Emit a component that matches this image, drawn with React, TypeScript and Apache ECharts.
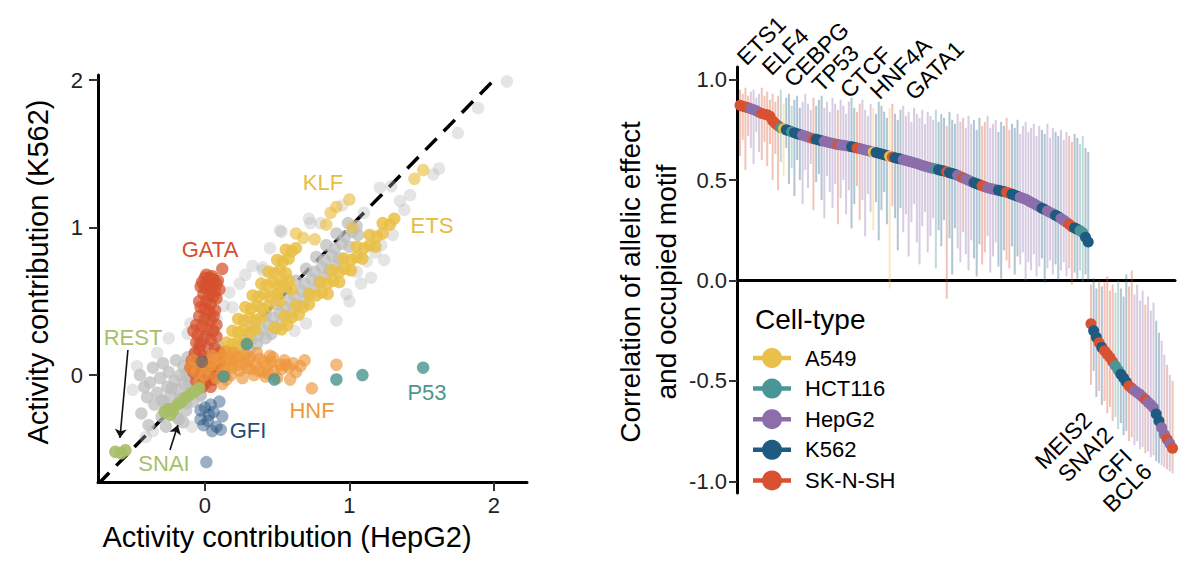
import React, { useEffect, useRef } from "react";
import * as echarts from "echarts";

const FONT = "'Liberation Sans', Arial, Helvetica, sans-serif";

// ---------- Left panel: activity contributions (HepG2 x, K562 y) ----------
// dense grey: lower-left cloud and the main band
const greyDense: number[][] = [
  [-0.45, 0.0], [-0.42, -0.08], [-0.4, -0.15], [-0.38, -0.05], [-0.36, 0.05], [-0.35, -0.2], [-0.33, -0.12], [-0.31, -0.02],
  [-0.3, -0.28], [-0.29, 0.08], [-0.28, -0.18], [-0.26, -0.08], [-0.25, 0.02], [-0.24, -0.14], [-0.22, -0.22], [-0.21, -0.04],
  [-0.2, 0.1], [-0.19, -0.1], [-0.18, -0.3], [-0.17, 0.0], [-0.16, -0.16], [-0.15, 0.06], [-0.14, -0.06], [-0.13, -0.24],
  [-0.12, 0.12], [-0.11, -0.12], [-0.1, -0.02], [-0.09, 0.04], [-0.08, -0.18], [-0.07, 0.14], [-0.06, -0.08], [-0.05, 0.08],
  [-0.04, 0.2], [-0.03, -0.14], [-0.02, 0.24], [-0.39, -0.34], [-0.44, -0.26], [-0.27, -0.35], [-0.15, -0.32],
  [-0.3, -0.17], [-0.23, -0.09], [-0.13, 0.01], [-0.07, 0.09], [-0.27, -0.23], [-0.17, -0.16], [-0.11, -0.06],
  [-0.19, -0.29], [-0.13, -0.19], [-0.03, -0.13], [0.05, -0.03],
  [-0.02, 0.03], [0.04, -0.01], [0.09, 0.04], [0.14, 0.0],
  [0.0, 0.11], [0.07, 0.09], [0.13, 0.12], [0.19, 0.08], [0.24, 0.12],
  [0.1, 0.19], [0.18, 0.17], [0.25, 0.2], [0.31, 0.17], [0.36, 0.21],
  [0.27, 0.26], [0.32, 0.24], [0.37, 0.27], [0.42, 0.25], [0.46, 0.28],
  [0.34, 0.33], [0.39, 0.31], [0.44, 0.34], [0.49, 0.32], [0.53, 0.35],
  [0.42, 0.41], [0.47, 0.39], [0.52, 0.42], [0.57, 0.4], [0.61, 0.43],
  [0.49, 0.48], [0.55, 0.46], [0.6, 0.49], [0.65, 0.47], [0.69, 0.5],
  [0.56, 0.56], [0.62, 0.54], [0.67, 0.57], [0.72, 0.55], [0.76, 0.58],
  [0.63, 0.64], [0.69, 0.62], [0.74, 0.65], [0.79, 0.63], [0.83, 0.66],
  [0.7, 0.72], [0.76, 0.7], [0.81, 0.73], [0.86, 0.71], [0.9, 0.74],
  [0.77, 0.8], [0.83, 0.78], [0.88, 0.81], [0.93, 0.79],
  [0.84, 0.88], [0.9, 0.86], [0.95, 0.89], [1.0, 0.87],
  [0.91, 0.96], [0.97, 0.94], [1.02, 0.97], [1.06, 0.95],
  [0.99, 1.03], [1.05, 1.01],
];

// sparse grey: scattered points around the bands
const greySparse: number[][] = [
  [-0.5, -0.1], [-0.47, 0.06], [-0.25, 0.25], [-0.33, 0.15], [-0.12, 0.28], [-0.09, -0.35], [-0.41, -0.42], [-0.36, -0.38],
  [0.05, 0.3], [0.08, 0.38], [0.13, 0.47], [0.19, 0.46], [0.17, 0.56], [0.24, 0.62], [0.28, 0.68], [0.33, 0.74],
  [0.4, 0.73], [0.52, 0.98], [0.73, 1.03], [0.45, 0.86], [-0.1, 0.35], [0.0, 0.4],
  [1.05, 0.7], [1.12, 0.77], [1.18, 0.83], [1.24, 0.78], [1.15, 0.66], [1.22, 0.88], [1.3, 0.95], [0.98, 0.55],
  [1.0, 0.5], [0.91, 0.37], [1.08, 0.62],
  [2.09, 1.99], [1.89, 1.81], [1.75, 1.64], [1.58, 1.36], [1.21, 1.27], [1.29, 1.28], [0.53, 0.97], [0.4, 0.71],
  [0.8, 1.03], [0.72, 1.06], [1.38, 1.12], [1.1, 1.1], [0.95, 1.15], [0.62, 0.3], [0.7, 0.35], [1.62, 1.4],
  [1.42, 1.22], [1.35, 1.18],
];

const klfPts: number[][] = [
  [0.1, 0.02], [0.14, 0.04],
  [0.09, 0.08], [0.13, 0.09], [0.17, 0.07],
  [0.12, 0.15], [0.16, 0.14], [0.2, 0.16], [0.24, 0.14],
  [0.15, 0.22], [0.19, 0.21], [0.23, 0.23], [0.27, 0.21], [0.3, 0.23],
  [0.19, 0.3], [0.23, 0.29], [0.27, 0.31], [0.31, 0.29], [0.35, 0.31],
  [0.23, 0.38], [0.27, 0.37], [0.31, 0.39], [0.35, 0.37], [0.39, 0.39],
  [0.28, 0.46], [0.32, 0.45], [0.36, 0.47], [0.4, 0.45], [0.44, 0.47],
  [0.33, 0.54], [0.37, 0.53], [0.41, 0.55], [0.45, 0.53], [0.49, 0.55],
  [0.39, 0.62], [0.43, 0.61], [0.47, 0.63], [0.51, 0.61], [0.54, 0.63],
  [0.44, 0.7], [0.48, 0.69], [0.52, 0.71], [0.56, 0.69],
  [0.5, 0.78], [0.54, 0.77], [0.58, 0.79],
  [0.56, 0.85], [0.6, 0.84], [0.63, 0.86],
];

const klfSparse: number[][] = [
  [1.0, 1.19], [0.91, 1.14], [0.87, 1.1], [0.84, 1.02], [0.76, 0.92], [0.68, 0.93], [0.63, 0.96], [1.51, 1.39],
  [1.45, 1.33], [1.02, 1.0],
];

const etsPts: number[][] = [
  [0.48, 0.32], [0.53, 0.31], [0.57, 0.34],
  [0.55, 0.4], [0.6, 0.39], [0.65, 0.41],
  [0.63, 0.47], [0.68, 0.46], [0.72, 0.48],
  [0.72, 0.55], [0.77, 0.54], [0.81, 0.56], [0.85, 0.55],
  [0.8, 0.63], [0.85, 0.62], [0.89, 0.64], [0.93, 0.63],
  [0.88, 0.71], [0.93, 0.7], [0.97, 0.72], [1.01, 0.71],
  [0.96, 0.79], [1.01, 0.78], [1.05, 0.8], [1.09, 0.79],
  [1.05, 0.87], [1.1, 0.86], [1.14, 0.88], [1.18, 0.87],
  [1.14, 0.95], [1.19, 0.94], [1.23, 0.96],
  [1.23, 1.03], [1.28, 1.02], [1.31, 1.06],
  [0.5, 0.55], [0.55, 0.6], [0.58, 0.64], [0.52, 0.5], [0.6, 0.58],
];

const gataPts: number[][] = [
  [0.12, 0.72], [0.0, 0.66], [0.03, 0.66], [0.06, 0.65], [-0.02, 0.63], [0.02, 0.62], [0.05, 0.61], [0.08, 0.62],
  [0.0, 0.59], [0.04, 0.58], [0.07, 0.57], [-0.01, 0.55], [0.03, 0.54], [0.06, 0.53], [0.01, 0.5], [0.04, 0.48],
  [0.0, 0.45], [0.03, 0.43], [-0.04, 0.4], [0.0, 0.38], [0.04, 0.37], [-0.06, 0.34], [-0.02, 0.33], [0.02, 0.31],
  [0.06, 0.3], [-0.05, 0.27], [0.0, 0.26], [0.04, 0.24], [-0.03, 0.21], [0.02, 0.19], [0.07, 0.18], [-0.07, 0.15],
  [-0.02, 0.13], [0.03, 0.12], [0.08, 0.1], [-0.06, 0.08], [0.0, 0.06], [0.05, 0.05], [-0.08, 0.02], [-0.03, 0.01],
  [0.02, -0.01], [0.07, 0.02], [-0.06, -0.04], [0.0, -0.06], [0.04, -0.08], [-0.1, 0.05], [0.1, 0.08], [-0.04, 0.17],
  [0.01, 0.68], [0.05, 0.67], [0.09, 0.64], [-0.03, 0.6], [0.1, 0.58], [0.08, 0.52], [-0.04, 0.5], [0.07, 0.44],
  [-0.03, 0.46], [0.06, 0.4], [0.08, 0.34], [-0.08, 0.3], [0.08, 0.26], [-0.06, 0.22], [0.1, 0.15], [-0.09, 0.1],
  [0.06, -0.03], [-0.02, -0.08],
];

const hnfPts: number[][] = [
  [-0.1, 0.05], [-0.06, 0.02], [-0.02, 0.08], [0.02, 0.04], [0.06, 0.1], [0.1, 0.06], [0.13, 0.02], [0.16, 0.09],
  [0.19, 0.05], [0.22, 0.12], [0.24, 0.03], [0.27, 0.08], [0.3, 0.1], [0.32, 0.04], [0.35, 0.07], [0.38, 0.11],
  [0.4, 0.02], [0.43, 0.06], [0.46, 0.09], [0.48, 0.03], [0.52, 0.07], [0.55, 0.1], [0.58, 0.05], [0.61, 0.08],
  [0.63, 0.02], [0.59, -0.03], [0.5, -0.02], [0.42, -0.01], [0.34, 0.0], [0.26, -0.02], [0.18, 0.0], [0.08, -0.02],
  [0.0, 0.0], [-0.04, -0.05], [0.12, 0.13], [0.2, 0.15], [0.28, 0.14], [0.36, 0.15], [0.91, 0.07], [0.74, -0.09],
  [0.45, 0.13], [0.15, -0.03],
  [0.05, 0.13], [0.09, 0.11], [0.14, 0.16], [0.18, 0.1], [0.23, 0.07], [0.29, 0.05], [0.31, 0.12], [0.37, 0.03],
  [0.41, 0.09], [0.44, 0.01], [0.47, 0.12], [0.53, 0.04], [0.56, 0.07], [0.66, 0.06], [0.69, 0.1], [0.04, 0.07],
  [-0.08, 0.1], [0.12, -0.06],
];

const p53Pts: number[][] = [
  [0.29, 0.21], [0.13, -0.01], [0.48, -0.03], [0.91, -0.03], [1.09, 0.0], [1.51, 0.05],
];

const gfiPts: number[][] = [
  [-0.03, -0.24], [0.0, -0.22], [0.03, -0.27], [0.06, -0.25], [0.1, -0.18], [0.02, -0.31], [0.12, -0.28], [0.08, -0.35],
  [-0.01, -0.34], [0.05, -0.38], [0.11, -0.37], [-0.03, -0.3], [0.01, -0.59], [-0.02, 0.09], [0.04, -0.2],
];

const snaiPts: number[][] = [
  [-0.28, -0.25], [-0.25, -0.23], [-0.22, -0.24], [-0.19, -0.2], [-0.16, -0.18], [-0.13, -0.15], [-0.1, -0.13],
  [-0.07, -0.11], [-0.04, -0.09], [-0.24, -0.27],
];

const restPts: number[][] = [[-0.62, -0.52], [-0.58, -0.53], [-0.55, -0.51]];

const diagonal: number[][] = [[-0.74, -0.74], [2.0, 2.0]];
const restArrow: number[][] = [[-0.533, 0.17], [-0.588, -0.427]];
const snaiArrow: number[][] = [[-0.242, -0.508], [-0.187, -0.339]];

const leftXTicks = [0, 1, 2];
const leftYTicks = [0, 1, 2];

// ---------- Right panel: ranked correlations ----------
const cellTypes = ["A549", "HCT116", "HepG2", "K562", "SK-N-SH"];
const cellColors = ["#E9C04B", "#4A9696", "#8C6EAA", "#1F5A80", "#D85232"];

const corrPos = [
  0.872, 0.868, 0.864, 0.86, 0.855, 0.85, 0.845, 0.838, 0.832, 0.828,
  0.825, 0.818, 0.795, 0.782, 0.771, 0.761, 0.755, 0.75, 0.746, 0.741,
  0.736, 0.731, 0.727, 0.723, 0.719, 0.714, 0.71, 0.706, 0.703, 0.699,
  0.696, 0.693, 0.69, 0.686, 0.683, 0.68, 0.677, 0.675, 0.673, 0.671,
  0.668, 0.666, 0.663, 0.66, 0.657, 0.653, 0.65, 0.647, 0.644, 0.64,
  0.637, 0.634, 0.63, 0.626, 0.622, 0.619, 0.615, 0.611, 0.608, 0.605,
  0.601, 0.598, 0.594, 0.59, 0.586, 0.582, 0.578, 0.573, 0.569, 0.565,
  0.561, 0.558, 0.555, 0.551, 0.548, 0.545, 0.541, 0.537, 0.533, 0.529,
  0.524, 0.517, 0.511, 0.505, 0.499, 0.493, 0.487, 0.482, 0.477, 0.472,
  0.467, 0.462, 0.458, 0.455, 0.452, 0.449, 0.446, 0.443, 0.44, 0.435,
  0.43, 0.425, 0.42, 0.415, 0.41, 0.404, 0.397, 0.39, 0.383, 0.375,
  0.367, 0.36, 0.353, 0.346, 0.339, 0.332, 0.325, 0.317, 0.309, 0.3,
  0.29, 0.28, 0.268, 0.262, 0.255, 0.248, 0.238, 0.215, 0.192,
];
const hiPos = [
  0.95, 0.93, 0.96, 0.92, 0.94, 0.95, 0.91, 0.93, 0.96, 0.92,
  0.94, 0.9, 0.93, 0.89, 0.92, 0.95, 0.88, 0.91, 0.93, 0.87,
  0.9, 0.92, 0.86, 0.89, 0.93, 0.88, 0.85, 0.91, 0.87, 0.9,
  0.92, 0.86, 0.89, 0.84, 0.91, 0.88, 0.85, 0.9, 0.87, 0.83,
  0.89, 0.91, 0.86, 0.84, 0.88, 0.9, 0.85, 0.82, 0.88, 0.86,
  0.83, 0.89, 0.87, 0.84, 0.81, 0.86, 0.88, 0.83, 0.8, 0.85,
  0.87, 0.82, 0.84, 0.79, 0.86, 0.83, 0.81, 0.85, 0.78, 0.84,
  0.82, 0.8, 0.85, 0.79, 0.83, 0.81, 0.77, 0.84, 0.8, 0.78,
  0.83, 0.79, 0.81, 0.76, 0.82, 0.78, 0.8, 0.75, 0.81, 0.77,
  0.79, 0.82, 0.76, 0.78, 0.8, 0.74, 0.79, 0.77, 0.81, 0.75,
  0.78, 0.76, 0.8, 0.73, 0.77, 0.79, 0.74, 0.76, 0.78, 0.72,
  0.77, 0.75, 0.73, 0.78, 0.71, 0.76, 0.74, 0.72, 0.75, 0.7,
  0.74, 0.72, 0.69, 0.73, 0.71, 0.68, 0.72, 0.66, 0.64,
];
const loPos = [
  0.62, 0.7, 0.55, 0.72, 0.66, 0.58, 0.74, 0.64, 0.6, 0.69,
  0.57, 0.68, 0.5, 0.63, 0.45, 0.59, 0.52, 0.66, 0.48, 0.56,
  0.42, 0.6, 0.5, 0.38, 0.55, 0.46, 0.58, 0.35, 0.49, 0.53,
  0.4, 0.31, 0.52, 0.44, 0.36, 0.48, 0.28, 0.41, 0.5, 0.33,
  0.45, 0.26, 0.38, 0.47, 0.3, 0.4, 0.22, 0.43, 0.34, 0.25,
  0.39, 0.2, 0.35, 0.44, 0.28, -0.04, 0.37, 0.31, 0.15, 0.36,
  0.24, 0.33, 0.12, 0.29, 0.38, 0.19, 0.08, 0.27, 0.34, 0.14,
  0.22, 0.31, 0.06, 0.25, 0.17, 0.3, -0.09, 0.21, 0.03, 0.26,
  0.16, 0.09, 0.24, 0.13, 0.05, 0.2, 0.11, 0.02, 0.18, 0.08,
  0.14, 0.22, 0.04, 0.12, 0.19, 0.07, 0.01, 0.15, 0.1, 0.06,
  0.17, 0.03, 0.12, 0.08, 0.14, 0.0, 0.09, 0.05, 0.13, 0.02,
  0.07, 0.11, -0.01, 0.06, 0.1, 0.03, 0.08, 0.0, 0.05, 0.09,
  0.02, 0.06, -0.02, 0.04, 0.01, 0.05, -0.01, 0.03, 0.0,
];
const corrNeg = [
  -0.215, -0.25, -0.283, -0.31, -0.333, -0.35, -0.367, -0.383, -0.405, -0.425,
  -0.446, -0.467, -0.485, -0.505, -0.525, -0.537, -0.548, -0.558, -0.567, -0.58,
  -0.593, -0.606, -0.619, -0.633, -0.665, -0.7, -0.733, -0.767, -0.79, -0.812, -0.835,
];
const hiNeg = [
  -0.02, 0.01, -0.04, 0.0, -0.03, -0.01, 0.02, -0.05, -0.02, -0.06,
  0.0, -0.04, -0.08, 0.03, -0.03, 0.05, -0.07, -0.02, -0.1, -0.05,
  -0.12, -0.08, -0.15, -0.11, -0.2, -0.26, -0.3, -0.37, -0.42, -0.47, -0.5,
];
const loNeg = [
  -0.52, -0.45, -0.58, -0.55, -0.62, -0.6, -0.66, -0.63, -0.7, -0.68,
  -0.74, -0.71, -0.77, -0.75, -0.8, -0.78, -0.82, -0.8, -0.84, -0.83,
  -0.86, -0.85, -0.88, -0.87, -0.9, -0.91, -0.92, -0.93, -0.94, -0.95, -0.96,
];
const cellOf = [
  4, 4, 4, 4, 2, 2, 2, 2, 4, 4,
  4, 4, 4, 4, 4, 1, 0, 3, 3, 1,
  3, 3, 3, 2, 2, 2, 2, 4, 3, 3,
  3, 2, 2, 2, 2, 2, 4, 2, 2, 2,
  2, 3, 3, 4, 4, 2, 2, 2, 2, 0,
  3, 3, 3, 3, 3, 0, 4, 3, 3, 3,
  2, 2, 2, 2, 2, 2, 2, 2, 2, 2,
  2, 2, 1, 3, 3, 3, 4, 3, 3, 3,
  2, 2, 4, 2, 2, 2, 3, 3, 3, 4,
  4, 2, 2, 2, 2, 3, 3, 3, 4, 4,
  3, 3, 3, 2, 2, 2, 2, 2, 2, 2,
  2, 3, 3, 2, 2, 2, 3, 3, 2, 2,
  2, 4, 4, 3, 3, 1, 1, 3, 3, 4,
  3, 3, 4, 3, 4, 4, 4, 4, 1, 1,
  3, 3, 3, 4, 4, 2, 2, 2, 2, 4,
  2, 2, 2, 3, 3, 2, 2, 4, 2, 4,
];
const rightYTicks = [-1, -0.5, 0, 0.5, 1];

const topLabels = ["ETS1", "ELF4", "CEBPG", "TP53", "CTCF", "HNF4A", "GATA1"];
const bottomLabels = ["MEIS2", "SNAI2", "GFI", "BCL6"];

// ---------- layout constants (pixels) ----------
const topLabelPos = [[749, 69], [774, 79], [796, 91], [824, 96], [852, 102], [882, 103], [917, 104]];
const bottomLabelPos = [[1047, 473], [1070, 486], [1109, 488], [1115, 516]];

const YELLOW = "#E6BC45";
const RED = "#D4502E";
const ORANGE = "#EE9840";
const TEAL = "#4A9690";
const NAVY = "#1F4B75";
const GREEN = "#A8BF6A";

const scatterLabels = [
  { t: "KLF", x: 323, y: 182, c: YELLOW },
  { t: "ETS", x: 432, y: 225, c: YELLOW },
  { t: "GATA", x: 210, y: 249, c: RED },
  { t: "REST", x: 133, y: 337, c: GREEN },
  { t: "HNF", x: 312, y: 410, c: ORANGE },
  { t: "P53", x: 427, y: 392, c: TEAL },
  { t: "GFI", x: 248, y: 430, c: NAVY },
  { t: "SNAI", x: 164, y: 463, c: GREEN },
];

function txt(text: string, x: number, y: number, opts: any = {}) {
  return {
    type: "text",
    x,
    y,
    rotation: opts.rotation || 0,
    silent: true,
    z: 100,
    style: {
      text,
      fill: opts.fill || "#000",
      fontSize: opts.fontSize || 22,
      fontFamily: FONT,
      align: opts.align || "center",
      textAlign: opts.align || "center",
      verticalAlign: opts.verticalAlign || "middle",
      textVerticalAlign: opts.verticalAlign || "middle",
    },
  };
}

function scatterSeries(name: string, data: number[][], color: string, opacity: number, extra: any = {}) {
  return {
    name,
    type: "scatter",
    xAxisIndex: 0,
    yAxisIndex: 0,
    data,
    symbolSize: 12.5,
    itemStyle: { color, opacity },
    silent: true,
    ...extra,
  };
}

function buildOption() {
  const corr = [...corrPos, ...corrNeg];
  const lo = [...loPos, ...loNeg];
  const hi = [...hiPos, ...hiNeg];
  const barData = corr.map((_, i) => [i, lo[i], hi[i], cellOf[i]]);
  const pointData = corr.map((v, i) => [i, v, cellOf[i]]);

  const arrowLine = (a: number[][]) => [
    { coord: a[0], symbol: "none" },
    { coord: a[1], symbol: "arrow" },
  ];

  const graphics: any[] = [];
  graphics.push(txt("Activity contribution (K562)", 38, 272, { fontSize: 29, rotation: Math.PI / 2 }));
  graphics.push(txt("Activity contribution (HepG2)", 287, 537, { fontSize: 29 }));
  graphics.push(txt("Correlation of allelic effect", 630, 282, { fontSize: 28, rotation: Math.PI / 2 }));
  graphics.push(txt("and occupied motif", 666, 282, { fontSize: 28, rotation: Math.PI / 2 }));
  scatterLabels.forEach((l) => graphics.push(txt(l.t, l.x, l.y, { fill: l.c, fontSize: 22 })));
  topLabels.forEach((t, k) =>
    graphics.push(
      txt(t, topLabelPos[k][0], topLabelPos[k][1], {
        fontSize: 23,
        rotation: Math.PI / 4,
        align: "left",
        verticalAlign: "bottom",
      })
    )
  );
  bottomLabels.forEach((t, k) =>
    graphics.push(
      txt(t, bottomLabelPos[k][0], bottomLabelPos[k][1], {
        fontSize: 23,
        rotation: Math.PI / 4,
        align: "left",
        verticalAlign: "bottom",
      })
    )
  );
  graphics.push(txt("Cell-type", 755, 319, { fontSize: 28, align: "left" }));
  cellTypes.forEach((ct, k) => {
    const y = 358 + k * 30.6;
    graphics.push({
      type: "line",
      silent: true,
      z: 100,
      shape: { x1: 753, y1: y, x2: 791, y2: y },
      style: { stroke: cellColors[k], lineWidth: 4.5 },
    });
    graphics.push({
      type: "circle",
      silent: true,
      z: 101,
      shape: { cx: 772, cy: y, r: 10 },
      style: { fill: cellColors[k] },
    });
    graphics.push(txt(ct, 805, y, { fontSize: 22, align: "left" }));
  });

  return {
    animation: false,
    backgroundColor: "#fff",
    textStyle: { fontFamily: FONT },
    grid: [
      { left: 98, top: 75, width: 429, height: 407 },
      { left: 737, top: 67, width: 438, height: 426 },
    ],
    xAxis: [
      {
        gridIndex: 0,
        type: "value",
        min: -0.74,
        max: 2.229,
        axisLine: { onZero: false, lineStyle: { color: "#000", width: 3 } },
        axisTick: { customValues: leftXTicks, length: 9, lineStyle: { color: "#333", width: 2 } },
        axisLabel: { customValues: leftXTicks, fontSize: 22, color: "#222", margin: 12, fontFamily: FONT },
        splitLine: { show: false },
      },
      {
        gridIndex: 1,
        type: "value",
        min: -1.1,
        max: 159.9,
        axisLine: { onZero: true, lineStyle: { color: "#000", width: 3 } },
        axisTick: { show: false },
        axisLabel: { show: false },
        splitLine: { show: false },
      },
    ],
    yAxis: [
      {
        gridIndex: 0,
        type: "value",
        min: -0.725,
        max: 2.034,
        axisLine: { onZero: false, lineStyle: { color: "#000", width: 3 } },
        axisTick: { customValues: leftYTicks, length: 9, lineStyle: { color: "#333", width: 2 } },
        axisLabel: { customValues: leftYTicks, fontSize: 22, color: "#222", margin: 15, fontFamily: FONT },
        splitLine: { show: false },
      },
      {
        gridIndex: 1,
        type: "value",
        min: -1.058,
        max: 1.063,
        axisLine: { onZero: false, lineStyle: { color: "#000", width: 3 } },
        axisTick: { customValues: rightYTicks, length: 8, lineStyle: { color: "#333", width: 2 } },
        axisLabel: {
          customValues: rightYTicks,
          fontSize: 22,
          color: "#222",
          margin: 10,
          fontFamily: FONT,
          formatter: (v: number) => v.toFixed(1),
        },
        splitLine: { show: false },
      },
    ],
    series: [
      {
        type: "line",
        xAxisIndex: 0,
        yAxisIndex: 0,
        data: diagonal,
        symbol: "none",
        silent: true,
        lineStyle: { color: "#000", width: 3.5, type: [16, 10] },
        z: 1,
      },
      scatterSeries("greySparse", greySparse, "#B5B5B5", 0.35),
      scatterSeries("greyDense", greyDense, "#BDBDBD", 0.75),
      scatterSeries("KLF", klfPts, "#E9C046", 0.85),
      scatterSeries("KLFsparse", klfSparse, "#E9C046", 0.65),
      scatterSeries("ETS", etsPts, "#E9C046", 0.85),
      scatterSeries("GATA", gataPts, "#D5502D", 0.72),
      scatterSeries("HNF", hnfPts, "#EE963C", 0.65),
      scatterSeries("P53", p53Pts, "#4A958F", 0.8),
      scatterSeries("GFI", gfiPts, "#24507E", 0.45),
      scatterSeries("SNAI", snaiPts, "#A6BF66", 0.9, {
        markLine: {
          silent: true,
          symbolSize: 9,
          label: { show: false },
          lineStyle: { color: "#111", width: 1.6, type: "solid" },
          data: [arrowLine(restArrow), arrowLine(snaiArrow)],
        },
      }),
      scatterSeries("REST", restPts, "#A6BF66", 0.9),
      {
        type: "custom",
        xAxisIndex: 1,
        yAxisIndex: 1,
        data: barData,
        silent: true,
        encode: { x: 0, y: [1, 2] },
        renderItem: (params: any, api: any) => {
          const p1 = api.coord([api.value(0), api.value(1)]);
          const p2 = api.coord([api.value(0), api.value(2)]);
          return {
            type: "line",
            shape: { x1: p1[0], y1: p1[1], x2: p2[0], y2: p2[1] },
            style: { stroke: cellColors[api.value(3)], lineWidth: 2, opacity: 0.35 },
          };
        },
      },
      {
        type: "scatter",
        xAxisIndex: 1,
        yAxisIndex: 1,
        data: pointData,
        symbolSize: 11,
        silent: true,
        itemStyle: { color: (p: any) => cellColors[p.data[2]], opacity: 1 },
      },
    ],
    graphic: graphics,
  };
}

export default function App() {
  const ref = useRef<HTMLDivElement>(null);
  useEffect(() => {
    if (!ref.current) return;
    const chart = echarts.init(ref.current, null, { renderer: "svg" });
    chart.setOption(buildOption() as any);
    return () => chart.dispose();
  }, []);
  return (
    <div
      ref={ref}
      style={{ position: "fixed", left: 0, top: 0, width: 1200, height: 576, background: "#fff" }}
    />
  );
}
